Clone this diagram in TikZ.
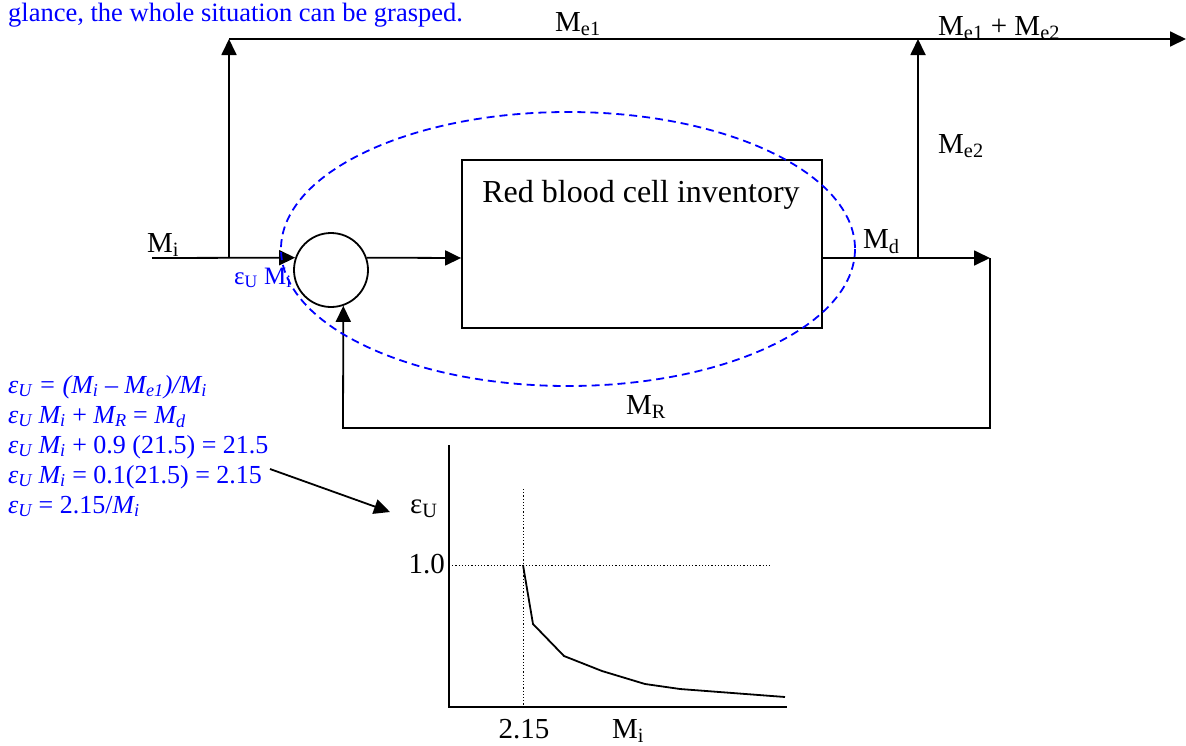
\documentclass[tikz,border=0pt]{standalone}
\usepackage{fontspec}
\setmainfont{Liberation Serif}
\usepackage{xcolor}
\usetikzlibrary{
    arrows.meta,
    positioning,
    calc
}
\tikzset{
  lbl/.style    = {font=\fontsize{29}{34}\selectfont, inner sep=0pt},
  eqn/.style    = {font=\fontsize{26}{30}\selectfont, text=eqBlue,
                   anchor=base west, inner sep=0pt},
  arr/.style    = {-{Triangle[length=16pt, width=15pt]}, line width=1.8pt},
  wire/.style   = {line width=1.8pt}
}
\definecolor{eqBlue}{RGB}{0,0,255}
\newcommand{\lo}[1]{\textsubscript{#1}}

\begin{document}
\begin{tikzpicture}[
    x=1pt, y=-1pt,
    sumnode/.style={draw, circle, line width=1.8pt, fill=white,
                    minimum size=74pt, inner sep=0pt},
    invbox/.style={draw, line width=1.8pt, minimum width=360pt,
                   minimum height=168pt, inner sep=0pt},
    guide/.style={line width=1pt, dash pattern=on 1.2pt off 2pt},
    region/.style={eqBlue, line width=1.8pt, dash pattern=on 8pt off 5pt}
]
\useasboundingbox (0,0) rectangle (1186,745);

% leftover text line
\node[font=\fontsize{26.5}{30}\selectfont, text=eqBlue, anchor=base west,
      inner sep=0pt] (intro) at (8,21)
    {glance, the whole situation can be grasped.};

% junction points
\coordinate (in)    at (152,258);
\coordinate (split) at (229,258);
\coordinate (topl)  at (229,39);
\coordinate (topm)  at (918,39);
\coordinate (out)   at (1186,39);
\coordinate (tap)   at (918,258);
\coordinate (fb)    at (990,258);
\coordinate (fbr)   at (990,428);
\coordinate (fbl)   at (343,428);

% blue label under the input (partly hidden by the circle)
\node[font=\fontsize{25}{28}\selectfont, text=eqBlue, anchor=base west,
      inner sep=0pt] (epsin) at (234,284) {ε\lo{U} M\lo{i}};

% blocks
\node[sumnode] (sum) at (331,270) {};
\node[invbox] (inv) at (642,244) {};
\node[font=\fontsize{32}{36}\selectfont, anchor=base, inner sep=0pt]
    (invtxt) at (641,202) {Red blood cell inventory};

% main path
\draw[arr] (in) -- (sum.161);
\draw[arr] (sum.19) -- (inv.west |- in);
\draw[arr] (inv.east |- in) -- (fb);
\draw[arr] (fb) -- (fbr) -- (fbl) -- (sum.-71);

% bypass and exits
\draw[arr] (split) -- (topl);
\draw[arr] (topl) -- (out);
\draw[arr] (tap) -- (topm);

% flow labels
\node[lbl, anchor=base west] (mi)   at (147,252) {M\lo{i}};
\node[lbl, anchor=base west] (me1)  at (555,31)  {M\lo{e1}};
\node[lbl, anchor=base west] (msum) at (938,35)  {M\lo{e1} + M\lo{e2}};
\node[lbl, anchor=base west] (me2)  at (938,153) {M\lo{e2}};
\node[lbl, anchor=base west] (md)   at (863,248) {M\lo{d}};
\node[lbl, anchor=base west] (mr)   at (626,414) {M\lo{R}};

% control volume
\draw[region] (568,249) ellipse [x radius=287, y radius=137];

% equations
\node[eqn] (eq1) at (8,393) {\textit{ε\lo{U} = (M\lo{i} – M\lo{e1})/M\lo{i}}};
\node[eqn] (eq2) at (8,423) {\textit{ε\lo{U} M\lo{i}} + \textit{M\lo{R}} = \textit{M\lo{d}}};
\node[eqn] (eq3) at (8,453) {\textit{ε\lo{U} M\lo{i}} + 0.9 (21.5) = 21.5};
\node[eqn] (eq4) at (8,483) {\textit{ε\lo{U} M\lo{i}} = 0.1(21.5) = 2.15};
\node[eqn] (eq5) at (8,513) {\textit{ε\lo{U}} = 2.15/\textit{M\lo{i}}};

% pointer to the graph
\coordinate (ptr)  at (270,469);
\coordinate (gtip) at (390,512);
\draw[arr] (ptr) -- (gtip);

% graph of eps_U against M_i
\draw[wire] (449,445) -- (449,707) -- (787,707);
\draw[guide] (523,489) -- (523,707);
\draw[guide] (449,565) -- (772,565);
\draw[wire] (523,565) -- (533,624) -- (564,656) -- (602,671)
    -- (645,684) -- (680,689) -- (785,697);
\node[lbl, anchor=base west] (gy)   at (410,513) {ε\lo{U}};
\node[lbl, anchor=base east] (gone) at (445,573) {1.0};
\node[lbl, anchor=base]      (gx0)  at (524,738) {2.15};
\node[lbl, anchor=base west] (gx)   at (612,738) {M\lo{i}};

\end{tikzpicture}
\end{document}
